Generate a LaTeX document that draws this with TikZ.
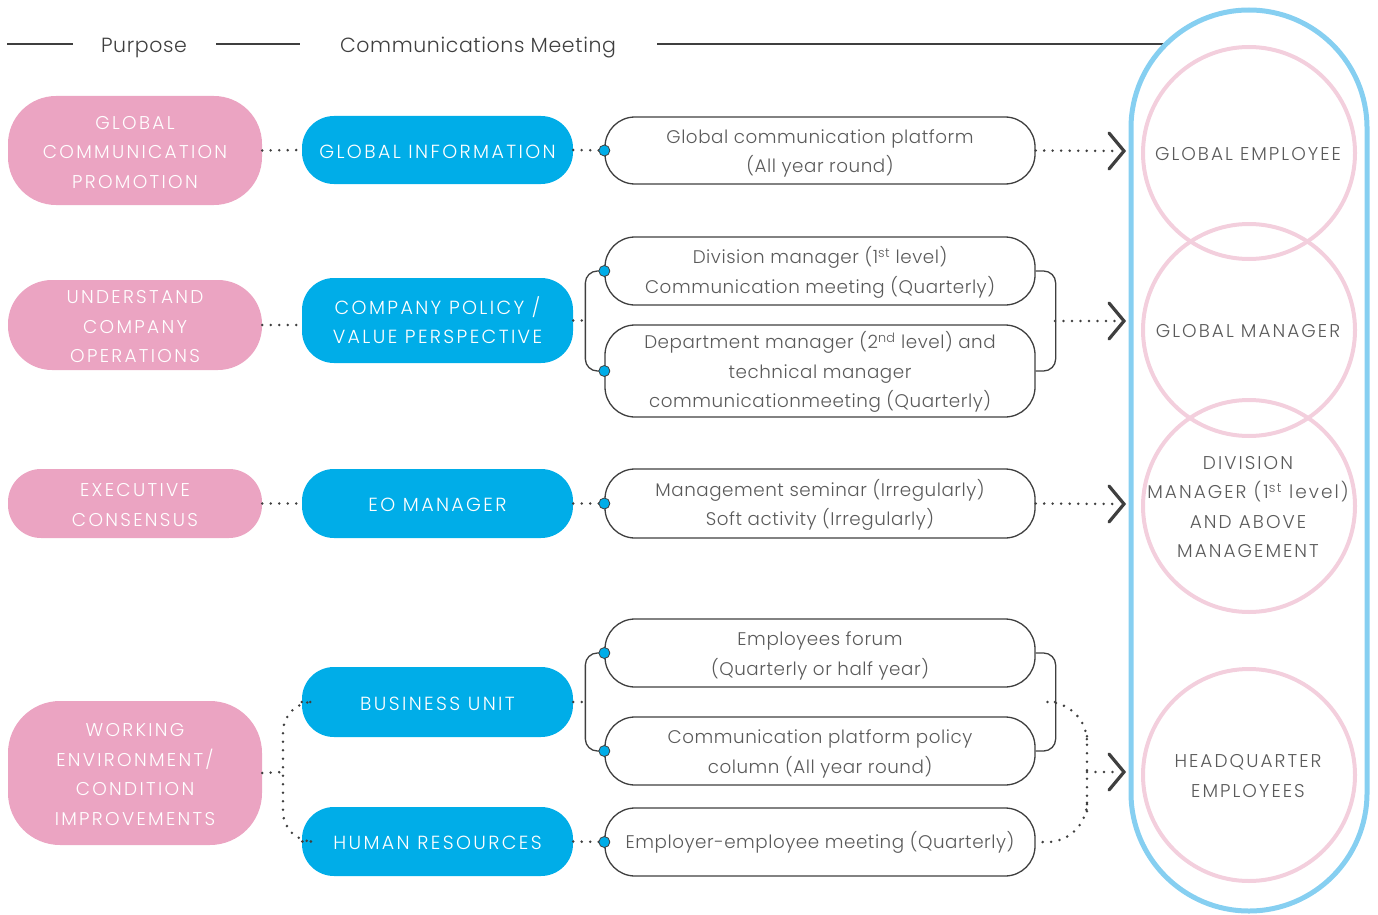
\documentclass[tikz,border=0pt]{standalone}
\usepackage{fontspec}
\setmainfont{Poppins Light}
\newfontfamily\capsfont{Poppins Light}[LetterSpace=12.5]
\newfontfamily\ringfont{Poppins Light}[LetterSpace=11]
\newfontfamily\bodyfont{Poppins Light}[LetterSpace=3]
\usetikzlibrary{calc}
\definecolor{pinkbox}{HTML}{EBA4C2}
\definecolor{bluebox}{HTML}{00ADE8}
\definecolor{ringblue}{HTML}{86CFF1}
\definecolor{ringpink}{HTML}{F3CFDD}
\definecolor{lineg}{HTML}{3F3F3F}
\definecolor{txt}{HTML}{5A5A5A}
\tikzset{
  purp/.style={fill=pinkbox, text=white, minimum width=254pt, align=center, inner sep=0pt,
    font=\capsfont\fontsize{18.5}{29.5}\selectfont},
  unitbox/.style={fill=bluebox, text=white, rounded corners=32pt, minimum width=271pt,
    align=center, inner sep=0pt, font=\capsfont\fontsize{19}{29}\selectfont,
    execute at begin node={\rule{0pt}{17pt}}},
  meet/.style={draw=lineg, line width=1.3pt, rounded corners=30pt, minimum width=430pt,
    align=center, inner sep=0pt, text=txt, font=\bodyfont\fontsize{18.3}{29.5}\selectfont},
  mtwo/.style={text height=49pt},
  mthree/.style={text height=78.5pt},
  ptwo/.style={text height=46pt},
  pthree/.style={text height=75.5pt},
  pfour/.style={text height=105pt},
  mdot/.style={circle, fill=bluebox, draw=lineg, line width=0.8pt, minimum size=11pt, inner sep=0pt},
  dotline/.style={draw=lineg, line width=2.8pt, line cap=round, dash pattern=on 0pt off 8.5pt},
  brack/.style={draw=lineg, line width=1.3pt, rounded corners=12pt},
  chev/.style={draw=lineg, line width=3.2pt, line cap=round, line join=miter},
  hline/.style={draw=lineg, line width=2pt},
  hdr/.style={text=lineg, font=\bodyfont\fontsize{20.5}{24}\selectfont, inner sep=0pt},
  ring/.style={circle, draw=ringpink, line width=4pt, minimum size=212pt, inner sep=0pt},
  ringtxt/.style={text=txt, align=center, inner sep=0pt, font=\ringfont\fontsize{18.5}{29.5}\selectfont},
}
\begin{document}
\begin{tikzpicture}[x=1pt,y=-1pt]
\useasboundingbox (0,0) rectangle (1378,915);
% header
\node[hdr] (hp) at (144,47.5) {Purpose};
\node[hdr] (hc) at (478,47.5) {Communications Meeting};
\draw[hline] (7,44) -- (73,44);
\draw[hline] (216,44) -- (300,44);
\draw[hline] (657,44) -- (1165,44);
% big ring and circles
\draw[draw=ringblue, line width=5pt, rounded corners=118pt] (1131,10) rectangle (1367,911);
\node[ring] (E1) at (1249,153) {};
\node[ring] (E2) at (1249,330) {};
\node[ring] (E3) at (1249,506) {};
\node[ring] (E4) at (1249,775) {};
\node[ringtxt] (t1) at (1248,154) {GLOBAL EMPLOYEE};
\node[ringtxt] (t2) at (1248,331) {GLOBAL MANAGER};
\node[ringtxt] (t3) at (1248,507) {DIVISION\\MANAGER (1\textsuperscript{st} level)\\AND ABOVE\\MANAGEMENT};
\node[ringtxt] (t4) at (1248,776) {HEADQUARTER\\EMPLOYEES};
% purpose boxes
\node[purp, pthree, minimum height=109pt, rounded corners=48pt] (P1) at (135,150.5) {GLOBAL\\COMMUNICATION\\PROMOTION};
\node[purp, pthree, minimum height=90pt, rounded corners=44pt] (P2) at (135,325) {UNDERSTAND\\COMPANY\\OPERATIONS};
\node[purp, ptwo, minimum height=69pt, rounded corners=33pt] (P3) at (135,503.5) {EXECUTIVE\\CONSENSUS};
\node[purp, pfour, minimum height=144pt, rounded corners=52pt] (P4) at (135,773) {WORKING\\ENVIRONMENT/\\CONDITION\\IMPROVEMENTS};
% unit boxes
\node[unitbox, minimum height=68pt] (B1) at (437.5,150) {GLOBAL INFORMATION};
\node[unitbox, minimum height=85pt] (B2) at (437.5,320.5) {COMPANY POLICY /\\VALUE PERSPECTIVE};
\node[unitbox, minimum height=69pt] (B3) at (437.5,503.5) {EO MANAGER};
\node[unitbox, minimum height=70pt] (B4) at (437.5,702) {BUSINESS UNIT};
\node[unitbox, minimum height=69pt] (B5) at (437.5,841.5) {HUMAN RESOURCES};
% meeting boxes
\node[meet, mtwo, minimum height=67pt] (M1) at (820,150.5) {Global communication platform\\(All year round)};
\node[meet, mtwo, minimum height=68pt] (M2a) at (820,271) {Division manager (1\textsuperscript{st} level)\\Communication meeting (Quarterly)};
\node[meet, mthree, minimum height=92pt] (M2b) at (820,371) {Department manager (2\textsuperscript{nd} level) and\\technical manager\\communicationmeeting (Quarterly)};
\node[meet, mtwo, minimum height=69pt] (M3) at (820,503.5) {Management seminar (Irregularly)\\Soft activity (Irregularly)};
\node[meet, mtwo, minimum height=68pt] (M4a) at (820,653) {Employees forum\\(Quarterly or half year)};
\node[meet, mtwo, minimum height=68pt] (M4b) at (820,751) {Communication platform policy\\column (All year round)};
\node[meet, minimum height=68pt] (M4c) at (820,842) {Employer-employee meeting (Quarterly)};
% coordinates
\coordinate (L2) at (586,320.5);
\coordinate (L4) at (586,702);
\coordinate (R2) at (1055,321);
\coordinate (R4) at (1055,702);
\coordinate (J4) at (1087,772);
\coordinate (K4) at (283,772);
\coordinate (T1) at (1124,151);
\coordinate (T2) at (1124,321);
\coordinate (T3) at (1124,504);
\coordinate (T4) at (1124,772);
% brackets
\draw[brack] (M2a.west) -- ++(-19,0) |- (M2b.west);
\draw[brack] (M4a.west) -- ++(-19,0) |- (M4b.west);
\draw[brack] (M2a.east) -- ++(20,0) |- (M2b.east);
\draw[brack] (M4a.east) -- ++(20,0) |- (M4b.east);
% dotted connectors left
\draw[dotline] (P1.east) -- (B1.west);
\draw[dotline] (P2.east) -- (P2.east -| B2.west);
\draw[dotline] (P3.east) -- (B3.west);
\draw[dotline] (P4.east) -- (K4);
\draw[dotline, rounded corners=30pt] (B4.west) -| (K4) |- (B5.west);
% dotted connectors middle
\draw[dotline] (B1.east) -- (M1.west);
\draw[dotline] (B2.east) -- (L2);
\draw[dotline] (B3.east) -- (M3.west);
\draw[dotline] (B4.east) -- (L4);
\draw[dotline] (B5.east) -- (M4c.west);
% dotted connectors right
\draw[dotline] (M1.east) -- ($(T1)+(-6,0)$);
\draw[dotline] (R2) -- ($(T2)+(-6,0)$);
\draw[dotline] (M3.east) -- ($(T3)+(-6,0)$);
\draw[dotline, rounded corners=40pt] (R4) -| (J4) |- (M4c.east);
\draw[dotline] (J4) -- ($(T4)+(-6,0)$);
% chevrons
\foreach \t in {T1,T2,T3,T4}{
  \draw[chev] ($(\t)+(-15,-18)$) -- (\t) -- ($(\t)+(-15,18)$);
}
% dots
\node[mdot] (d1) at (M1.west) {};
\node[mdot] (d2) at (M2a.west) {};
\node[mdot] (d3) at (M2b.west) {};
\node[mdot] (d4) at (M3.west) {};
\node[mdot] (d5) at (M4a.west) {};
\node[mdot] (d6) at (M4b.west) {};
\node[mdot] (d7) at (M4c.west) {};
\end{tikzpicture}
\end{document}
